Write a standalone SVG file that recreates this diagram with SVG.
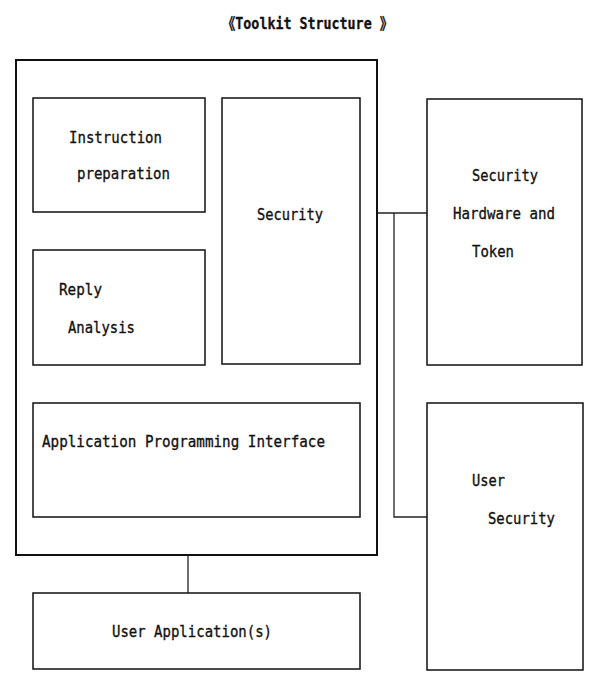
<svg xmlns="http://www.w3.org/2000/svg" width="600" height="690" viewBox="0 0 600 690">
<style>
.box{fill:none;stroke:#111;stroke-width:1.5}
.outer{fill:none;stroke:#111;stroke-width:2}
.conn{fill:none;stroke:#222;stroke-width:1.3}
text{font-family:"DejaVu Sans Mono","Liberation Mono",monospace;font-size:16.5px;fill:#111;stroke:#111;stroke-width:0.35}
.title{font-family:"DejaVu Sans Mono","Noto Sans CJK SC",monospace;font-size:16px;font-weight:bold;stroke-width:0.3}
</style>
<rect width="600" height="690" fill="#fff"/>
<text class="title" x="222" y="29" textLength="171" lengthAdjust="spacingAndGlyphs">《Toolkit Structure 》</text>
<g id="connectors">
<line class="conn" x1="188" y1="555" x2="188" y2="593"/>
<line class="conn" x1="377" y1="213" x2="427" y2="213"/>
<polyline class="conn" points="394,213 394,517 427,517"/>
</g>
<g id="toolkit"><rect class="outer" x="16" y="60" width="361" height="495"/></g>
<g id="instruction"><rect class="box" x="33" y="98" width="172" height="114"/>
<text x="69" y="143" textLength="93" lengthAdjust="spacingAndGlyphs">Instruction</text><text x="77" y="179" textLength="93" lengthAdjust="spacingAndGlyphs">preparation</text></g>
<g id="security"><rect class="box" x="222" y="98" width="138" height="266"/>
<text x="257" y="220" textLength="66" lengthAdjust="spacingAndGlyphs">Security</text></g>
<g id="reply"><rect class="box" x="33" y="250" width="172" height="115"/>
<text x="59" y="295" textLength="43" lengthAdjust="spacingAndGlyphs">Reply</text><text x="68" y="333" textLength="67" lengthAdjust="spacingAndGlyphs">Analysis</text></g>
<g id="api"><rect class="box" x="33" y="403" width="327" height="114"/>
<text x="42" y="447" textLength="283" lengthAdjust="spacingAndGlyphs">Application Programming Interface</text></g>
<g id="userapp"><rect class="box" x="33" y="593" width="327" height="76"/>
<text x="112" y="637" textLength="160" lengthAdjust="spacingAndGlyphs">User Application(s)</text></g>
<g id="hwtoken"><rect class="box" x="427" y="99" width="155" height="266"/>
<text x="472" y="181" textLength="66" lengthAdjust="spacingAndGlyphs">Security</text><text x="453" y="219" textLength="102" lengthAdjust="spacingAndGlyphs">Hardware and</text><text x="472" y="257" textLength="42" lengthAdjust="spacingAndGlyphs">Token</text></g>
<g id="usersec"><rect class="box" x="427" y="403" width="156" height="267"/>
<text x="472" y="486" textLength="33" lengthAdjust="spacingAndGlyphs">User</text><text x="488" y="524" textLength="67" lengthAdjust="spacingAndGlyphs">Security</text></g>
</svg>
